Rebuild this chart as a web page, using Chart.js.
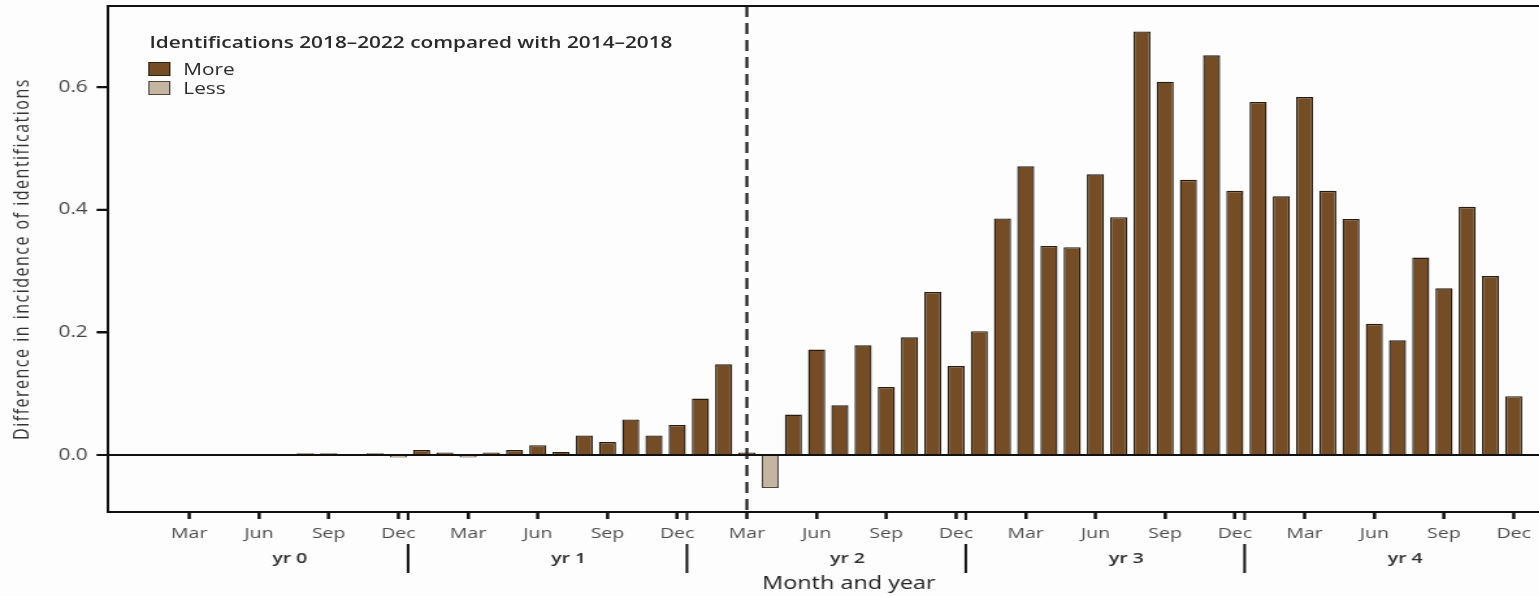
<!DOCTYPE html>
<html lang="en">
<head>
<meta charset="UTF-8">
<title>Difference in incidence of identifications</title>
<script src="https://cdn.jsdelivr.net/npm/chart.js"></script>
<style>
  html, body {
    margin: 0;
    padding: 0;
    width: 1539px;
    height: 596px;
    overflow: hidden;
    background: #fcfdfc;
  }
  /* the source figure is stretched sideways, so the whole stage is too */
  .stage {
    position: absolute;
    left: 0;
    top: 0;
    width: 1223px;
    height: 596px;
    transform: scaleX(1.3);
    transform-origin: 0 0;
  }
  #chart { position: absolute; left: 0; top: 0; }
  .lg {
    position: absolute;
    font-family: 'Open Sans', sans-serif;
    font-size: 16px;
    line-height: 16px;
    color: #2a2a2a;
    white-space: nowrap;
  }
  .lg-title { left: 115px; top: 34px; font-weight: 600; }
  .lg-text { left: 141px; }
  .swatch {
    position: absolute;
    left: 114px;
    width: 17px;
    height: 14px;
    box-sizing: border-box;
    border: 1.5px solid #2b2118;
  }
</style>
</head>
<body>

<div class="stage">
  <canvas id="chart" width="1223" height="596"></canvas>
  <div class="lg lg-title">Identifications 2018–2022 compared with 2014–2018</div>
  <span class="swatch" style="top:62px; background:#744c26;"></span>
  <div class="lg lg-text" style="top:61px;">More</div>
  <span class="swatch" style="top:81px; background:#c4b5a3; border-color:#4d443c;"></span>
  <div class="lg lg-text" style="top:80px;">Less</div>
</div>

<script>
// month labels and the ones shown on the axis
const monthNames = ['Jan', 'Feb', 'Mar', 'Apr', 'May', 'Jun', 'Jul', 'Aug', 'Sep', 'Oct', 'Nov', 'Dec'];
const shownMonths = [2, 5, 8, 11];            // Mar, Jun, Sep, Dec
const yearLabels = ['yr 0', 'yr 1', 'yr 2', 'yr 3', 'yr 4'];
const yTicks = [0, 0.2, 0.4, 0.6];
const yTitle = 'Difference in incidence of identifications';

// difference in incidence per month, Jan..Dec (null = no bar)
const diffYr0 = [null, null, null, null, null, null, null, 0.003, 0.003, null, 0.003, -0.004];
const diffYr1 = [0.008, 0.004, -0.004, 0.004, 0.008, 0.016, 0.005, 0.032, 0.021, 0.058, 0.032, 0.049];
const diffYr2 = [0.092, 0.148, 0.004, -0.054, 0.066, 0.172, 0.081, 0.179, 0.111, 0.192, 0.266, 0.145];
const diffYr3 = [0.202, 0.386, 0.471, 0.341, 0.339, 0.458, 0.388, 0.691, 0.609, 0.449, 0.652, 0.431];
const diffYr4 = [0.576, 0.422, 0.584, 0.431, 0.385, 0.214, 0.187, 0.322, 0.272, 0.405, 0.292, 0.096];

// month index (from Jan yr 0) where the dashed line sits
const periodStart = 26;

const allDiffs = [].concat(diffYr0, diffYr1, diffYr2, diffYr3, diffYr4);
const barData = allDiffs.map((v, i) => ({ x: i, y: v }));
const moreColor = '#744c26', lessColor = '#c4b5a3';

const monthTicks = [];
yearLabels.forEach((_, yr) => shownMonths.forEach(m => monthTicks.push(yr * 12 + m)));
const yearTicks = yearLabels.map((_, yr) => yr * 12 + 6.33);
const dividers = [1, 2, 3, 4].map(yr => yr * 12 - 0.58);

const xMin = -1.5, xMax = 62.28;

const extras = {
  id: 'extras',
  afterDatasetsDraw(chart) {
    const { ctx, chartArea: a, scales: { x } } = chart;
    ctx.save();
    ctx.strokeStyle = '#1c1c1c';
    ctx.lineWidth = 2.2;
    ctx.setLineDash([11, 6]);
    const px = x.getPixelForValue(periodStart);
    ctx.beginPath();
    ctx.moveTo(px, a.top);
    ctx.lineTo(px, a.bottom);
    ctx.stroke();
    ctx.restore();
  },
  afterDraw(chart) {
    const { ctx, chartArea: a, scales: { x, y } } = chart;
    ctx.save();
    ctx.strokeStyle = '#111';
    ctx.lineWidth = 2;
    // top frame
    ctx.beginPath();
    ctx.moveTo(a.left - 1, a.top);
    ctx.lineTo(a.right, a.top);
    ctx.stroke();
    // tick marks on both axes
    ctx.beginPath();
    monthTicks.forEach(m => {
      const px = x.getPixelForValue(m);
      ctx.moveTo(px, a.bottom);
      ctx.lineTo(px, a.bottom + 7);
    });
    yTicks.forEach(v => {
      const py = y.getPixelForValue(v);
      ctx.moveTo(a.left - 8.5, py);
      ctx.lineTo(a.left, py);
    });
    ctx.stroke();
    // year separators under the axis
    dividers.forEach(d => {
      const px = x.getPixelForValue(d);
      ctx.beginPath();
      ctx.moveTo(px, a.bottom);
      ctx.lineTo(px, a.bottom + 8);
      ctx.moveTo(px, a.bottom + 32);
      ctx.lineTo(px, a.bottom + 61);
      ctx.stroke();
    });
    // y axis title, letter-spaced like the source
    ctx.translate(17, (a.top + a.bottom) / 2);
    ctx.rotate(-Math.PI / 2);
    ctx.font = '16px "Open Sans"';
    ctx.letterSpacing = '1.5px';
    ctx.fillStyle = '#333';
    ctx.textAlign = 'center';
    ctx.textBaseline = 'middle';
    ctx.fillText(yTitle, 0, 0);
    ctx.restore();
  }
};

new Chart(document.getElementById('chart'), {
  type: 'bar',
  data: {
    datasets: [{
      data: barData,
      backgroundColor: allDiffs.map(v => v < 0 ? lessColor : moreColor),
      borderColor: allDiffs.map(v => v < 0 ? '#4d443c' : '#261c12'),
      borderWidth: 1.4,
      barPercentage: 0.92,
      categoryPercentage: 0.8
    }]
  },
  options: {
    responsive: false,
    animation: false,
    layout: { padding: { top: 6, right: 0, left: 0, bottom: 0 } },
    plugins: { legend: { display: false }, tooltip: { enabled: false } },
    scales: {
      x: {
        type: 'linear',
        position: 'bottom',
        offset: false,
        min: xMin,
        max: xMax,
        afterBuildTicks: s => { s.ticks = monthTicks.map(v => ({ value: v })); },
        afterFit: s => { s.height = 33; s.paddingLeft = 0; s.paddingRight = 0; },
        border: { color: '#111', width: 2 },
        grid: { offset: false, drawOnChartArea: false, tickLength: 7, tickWidth: 2, tickColor: '#111' },
        ticks: {
          padding: 6,
          color: '#4d4d4d',
          autoSkip: false,
          maxRotation: 0,
          font: { family: 'Open Sans', size: 15 },
          callback: v => monthNames[Math.round(v) % 12]
        }
      },
      x2: {
        type: 'linear',
        position: 'bottom',
        offset: false,
        min: xMin,
        max: xMax,
        afterBuildTicks: s => { s.ticks = yearTicks.map(v => ({ value: v })); },
        afterFit: s => { s.height = 51; s.paddingLeft = 0; s.paddingRight = 0; },
        border: { display: false },
        grid: { display: false, drawTicks: false, offset: false },
        ticks: {
          padding: 5,
          color: '#2e2e2e',
          autoSkip: false,
          maxRotation: 0,
          font: { family: 'Open Sans', size: 15, weight: '600' },
          callback: (v, i) => yearLabels[i]
        },
        title: {
          display: true,
          text: 'Month and year',
          color: '#222',
          font: { family: 'Open Sans', size: 18 },
          padding: { top: 0, bottom: 1 }
        }
      },
      y: {
        min: -0.093,
        max: 0.7325,
        afterBuildTicks: s => { s.ticks = yTicks.map(v => ({ value: v })); },
        afterFit: s => { s.width = 83; s.paddingTop = 0; s.paddingBottom = 0; },
        border: { color: '#111', width: 2 },
        grid: {
          tickLength: 8.5,
          tickWidth: 2,
          tickColor: '#111',
          color: c => (c.tick && c.tick.value === 0) ? '#111' : 'rgba(0,0,0,0)',
          lineWidth: 2
        },
        ticks: {
          padding: 7,
          color: '#444',
          font: { family: 'Open Sans', size: 16 },
          callback: v => v.toFixed(1)
        }
      }
    }
  },
  plugins: [extras]
});
</script>
</body>
</html>
